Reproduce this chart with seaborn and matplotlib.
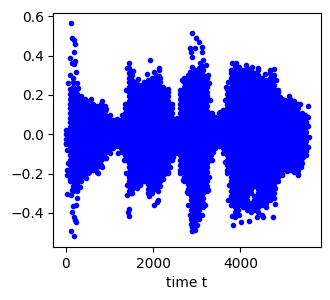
import matplotlib
matplotlib.use("Agg")
import matplotlib.pyplot as plt
import seaborn as sns

# edge points and outliers
edge_t = [130, 155, 190, 220, 198, 108, 205, 183, 150, 245, 100, 270, 290, 50, 590, 825, 925, 1016, 1170, 1290, 1380, 1405, 1458, 1545, 1664,
          1855, 1938, 2030, 2145, 2145, 2145, 2235, 2350, 2425, 2542, 2618, 2656, 2847, 2900, 2885, 2984, 3053, 3114, 3130, 2847, 2950, 2860,
          2900, 3150, 3070, 3212, 3267, 3290, 3305, 3343, 3380, 3533, 3603, 3648, 3670, 3720, 3778, 3800, 3892, 3968, 4128, 4258, 4410, 4563,
          4677, 4776, 4815, 4868, 4906, 5020, 5119, 5210, 5364, 5403, 5478, 5540, 5555, 5555,
          0, 40, 62, 25, 40, 100, 40, 124, 153, 268, 330, 162, 238, 268, 153, 192, 215, 231, 130, 185, 467, 520, 748, 826, 917, 1016, 1206, 1284,
          1336, 1382, 1412, 1412, 1497, 1627, 1700, 1451, 1435, 1458, 1908, 1970, 2120, 2121, 2084, 2023, 2235, 2350, 2389, 2458, 2656, 2618,
          2693, 2770, 2808, 2847, 2885, 2900, 2961, 3000, 3114, 3190, 3267, 3290, 3343, 3381, 3608, 3648, 3700, 3746, 3723, 3785, 3800, 3838,
          4014, 4204, 3952, 4373, 4524, 4753, 4792, 4716, 4792, 4945, 5059, 5325, 5380, 5440, 5555, 5478, 5560]
edge_y = [.563, .49, .48, .46, .42, .385, .373, .356, .36, .318, .3, .26, .233, .26, .18, .168, .13, .1, .075, .1, .224, .335, .36, .32, .28,
          .306, .375, .317, .337, .325, .296, .24, .23, .155, .082, .224, .276, .318, .343, .513, .487, .47, .445, .42, .44, .437, .42,
          .39, .377, .364, .352, .3, .259, .174, .108, .09, .115, .123, .174, .24, .267, .326, .364, .364, .343, .352, .343, .335, .306,
          .326, .331, .276, .225, .19, .174, .194, .169, .154, .108, .097, .144, .09, .04,
          -.046, -.08, -.146, -.18, -.207, -.24, -.303, -.308, -.283, -.29, -.266, -.364, -.36, -.325, -.396, -.423, -.435, -.448, -.493, -.518, -.224, -.198, -.198, -.164, -.122, -.097, -.093, -.088,
          -.13, -.198, -.257, -.308, -.3, -.274, -.257, -.381, -.396, -.413, -.316, -.3, -.29, -.334, -.345, -.36, -.23, -.198, -.164, -.114, -.114, -.198,
          -.232, -.291, -.359, -.41, -.494, -.47, -.486, -.46, -.41, -.359, -.283, -.215, -.13, -.088, -.093, -.139, -.198, -.257, -.333, -.359, -.414, -.463,
          -.447, -.44, -.384, -.42, -.423, -.42, -.354, -.308, -.274, -.207, -.185, -.207, -.164, -.118, -.063, -.105, -.012]

# solid interior, hand estimated column by column
times_a = [0, 90, 180, 270, 360, 450, 540, 630, 720, 810, 900, 990, 1080, 1170, 1260]
values_a = [
    [-.048, -.024, 0, .024],
    [-.228, -.204, -.18, -.156, -.132, -.108, -.084, -.06, -.036, -.012, .012, .036, .06, .084, .108, .132, .156, .18, .204, .228],
    [-.288, -.264, -.24, -.216, -.192, -.168, -.144, -.12, -.096, -.072, -.048, -.024, 0, .024, .048, .072, .096, .12, .144, .168, .192, .216, .24, .264, .288],
    [-.276, -.252, -.228, -.204, -.18, -.156, -.132, -.108, -.084, -.06, -.036, -.012, .012, .036, .06, .084, .108, .132, .156, .18, .204, .228],
    [-.24, -.216, -.192, -.168, -.144, -.12, -.096, -.072, -.048, -.024, 0, .024, .048, .072, .096, .12, .144, .168, .192],
    [-.204, -.18, -.156, -.132, -.108, -.084, -.06, -.036, -.012, .012, .036, .06, .084, .108, .132, .156, .18],
    [-.192, -.168, -.144, -.12, -.096, -.072, -.048, -.024, 0, .024, .048, .072, .096, .12, .144, .168],
    [-.18, -.156, -.132, -.108, -.084, -.06, -.036, -.012, .012, .036, .06, .084, .108, .132, .156],
    [-.192, -.168, -.144, -.12, -.096, -.072, -.048, -.024, 0, .024, .048, .072, .096, .12, .144],
    [-.156, -.132, -.108, -.084, -.06, -.036, -.012, .012, .036, .06, .084, .108, .132, .156],
    [-.12, -.096, -.072, -.048, -.024, 0, .024, .048, .072, .096, .12, .144],
    [-.084, -.06, -.036, -.012, .012, .036, .06, .084],
    [-.072, -.048, -.024, 0, .024, .048, .072],
    [-.06, -.036, -.012, .012, .036, .06],
    [-.072, -.048, -.024, 0, .024, .048, .072],
]

times_b = [1350, 1440, 1530, 1620, 1710, 1800, 1890, 1980, 2070, 2160, 2250, 2340, 2430, 2520]
values_b = [
    [-.132, -.108, -.084, -.06, -.036, -.012, .012, .036, .06, .084, .108, .132, .156],
    [-.288, -.264, -.24, -.216, -.192, -.168, -.144, -.12, -.096, -.072, -.048, -.024, 0, .024, .048, .072, .096, .12, .144, .168, .192, .216, .24, .264, .288, .312, .336],
    [-.3, -.276, -.252, -.228, -.204, -.18, -.156, -.132, -.108, -.084, -.06, -.036, -.012, .012, .036, .06, .084, .108, .132, .156, .18, .204, .228, .252, .276, .3],
    [-.264, -.24, -.216, -.192, -.168, -.144, -.12, -.096, -.072, -.048, -.024, 0, .024, .048, .072, .096, .12, .144, .168, .192, .216, .24, .264],
    [-.252, -.228, -.204, -.18, -.156, -.132, -.108, -.084, -.06, -.036, -.012, .012, .036, .06, .084, .108, .132, .156, .18, .204, .228, .252],
    [-.24, -.216, -.192, -.168, -.144, -.12, -.096, -.072, -.048, -.024, 0, .024, .048, .072, .096, .12, .144, .168, .192, .216, .24, .264],
    [-.3, -.276, -.252, -.228, -.204, -.18, -.156, -.132, -.108, -.084, -.06, -.036, -.012, .012, .036, .06, .084, .108, .132, .156, .18, .204, .228, .252, .276],
    [-.288, -.264, -.24, -.216, -.192, -.168, -.144, -.12, -.096, -.072, -.048, -.024, 0, .024, .048, .072, .096, .12, .144, .168, .192, .216, .24, .264, .288],
    [-.276, -.252, -.228, -.204, -.18, -.156, -.132, -.108, -.084, -.06, -.036, -.012, .012, .036, .06, .084, .108, .132, .156, .18, .204, .228, .252, .276, .3],
    [-.264, -.24, -.216, -.192, -.168, -.144, -.12, -.096, -.072, -.048, -.024, 0, .024, .048, .072, .096, .12, .144, .168, .192, .216, .24, .264, .288],
    [-.204, -.18, -.156, -.132, -.108, -.084, -.06, -.036, -.012, .012, .036, .06, .084, .108, .132, .156, .18, .204, .228],
    [-.192, -.168, -.144, -.12, -.096, -.072, -.048, -.024, 0, .024, .048, .072, .096, .12, .144, .168, .192, .216],
    [-.132, -.108, -.084, -.06, -.036, -.012, .012, .036, .06, .084, .108, .132],
    [-.096, -.072, -.048, -.024, 0, .024, .048, .072],
]

times_c = [2610, 2700, 2790, 2880, 2970, 3060, 3150, 3240, 3330, 3420, 3510, 3600]
values_c = [
    [-.18, -.156, -.132, -.108, -.084, -.06, -.036, -.012, .012, .036, .06, .084, .108, .132, .156, .18, .204],
    [-.24, -.216, -.192, -.168, -.144, -.12, -.096, -.072, -.048, -.024, 0, .024, .048, .072, .096, .12, .144, .168, .192, .216, .24, .264, .288],
    [-.3, -.276, -.252, -.228, -.204, -.18, -.156, -.132, -.108, -.084, -.06, -.036, -.012, .012, .036, .06, .084, .108, .132, .156, .18, .204, .228, .252, .276, .3],
    [-.456, -.432, -.408, -.384, -.36, -.336, -.312, -.288, -.264, -.24, -.216, -.192, -.168, -.144, -.12, -.096, -.072, -.048, -.024, 0, .024, .048, .072, .096, .12, .144, .168, .192, .216, .24, .264, .288, .312],
    [-.468, -.444, -.42, -.396, -.372, -.348, -.324, -.3, -.276, -.252, -.228, -.204, -.18, -.156, -.132, -.108, -.084, -.06, -.036, -.012, .012, .036, .06, .084, .108, .132, .156, .18, .204, .228, .252, .276, .3, .324],
    [-.432, -.408, -.384, -.36, -.336, -.312, -.288, -.264, -.24, -.216, -.192, -.168, -.144, -.12, -.096, -.072, -.048, -.024, 0, .024, .048, .072, .096, .12, .144, .168, .192, .216, .24, .264, .288, .312, .336],
    [-.372, -.348, -.324, -.3, -.276, -.252, -.228, -.204, -.18, -.156, -.132, -.108, -.084, -.06, -.036, -.012, .012, .036, .06, .084, .108, .132, .156, .18, .204, .228, .252, .276, .3, .324, .348],
    [-.288, -.264, -.24, -.216, -.192, -.168, -.144, -.12, -.096, -.072, -.048, -.024, 0, .024, .048, .072, .096, .12, .144, .168, .192, .216, .24, .264, .288],
    [-.132, -.108, -.084, -.06, -.036, -.012, .012, .036, .06, .084, .108],
    [-.072, -.048, -.024, 0, .024, .048, .072, .09],
    [-.06, -.036, -.012, .012, .036, .06, .084, .108],
    [-.072, -.048, -.024, 0, .024, .048, .072, .096, .12],
]

times_d = [3690, 3780, 3870, 3960, 4050, 4140, 4230, 4320, 4410, 4500, 4590]
values_d = [
    [-.18, -.156, -.132, -.108, -.084, -.06, -.036, -.012, .012, .036, .06, .084, .108, .132, .156, .18, .204, .228],
    [-.336, -.312, -.288, -.264, -.24, -.216, -.192, -.168, -.144, -.12, -.096, -.072, -.048, -.024, 0, .024, .048, .072, .096, .12, .144, .168, .192, .216, .24, .264, .288, .312],
    [-.42, -.396, -.372, -.348, -.324, -.3, -.276, -.252, -.228, -.204, -.18, -.156, -.132, -.108, -.084, -.06, -.036, -.012, .012, .036, .06, .084, .108, .132, .156, .18, .204, .228, .252, .276, .3, .324, .348],
    [-.408, -.36, -.336, -.312, -.288, -.264, -.24, -.216, -.192, -.168, -.144, -.12, -.096, -.072, -.048, -.024, 0, .024, .048, .072, .096, .12, .144, .168, .192, .216, .24, .264, .288, .312, .336],
    [-.372, -.348, -.324, -.3, -.276, -.252, -.228, -.204, -.18, -.156, -.132, -.108, -.084, -.06, -.036, -.012, .012, .036, .06, .084, .108, .132, .156, .18, .204, .228, .252, .276, .3, .324],
    [-.384, -.36, -.336, -.312, -.288, -.264, -.24, -.216, -.192, -.168, -.144, -.12, -.096, -.072, -.048, -.024, 0, .024, .048, .072, .096, .12, .144, .168, .192, .216, .24, .264, .288, .312, .336],
    [-.396, -.372, -.348, -.3, -.276, -.252, -.228, -.204, -.18, -.156, -.132, -.108, -.084, -.06, -.036, -.012, .012, .036, .06, .084, .108, .132, .156, .18, .204, .228, .252, .276, .3, .324],
    [-.384, -.36, -.336, -.312, -.264, -.24, -.216, -.192, -.168, -.144, -.12, -.096, -.072, -.048, -.024, 0, .024, .048, .072, .096, .12, .144, .168, .192, .216, .24, .264, .288, .312],
    [-.396, -.372, -.348, -.324, -.3, -.276, -.252, -.228, -.204, -.18, -.156, -.132, -.108, -.084, -.06, -.036, -.012, .012, .036, .06, .084, .108, .132, .156, .18, .204, .228, .252, .276, .3, .324],
    [-.408, -.36, -.336, -.312, -.288, -.264, -.24, -.216, -.192, -.168, -.144, -.12, -.096, -.072, -.048, -.024, 0, .024, .048, .072, .096, .12, .144, .168, .192, .216, .24, .264, .288],
    [-.372, -.348, -.324, -.3, -.276, -.252, -.228, -.204, -.18, -.156, -.132, -.108, -.084, -.06, -.036, -.012, .012, .036, .06, .084, .108, .132, .156, .18, .204, .228, .252, .276],
]

times_e = [4680, 4770, 4860, 4950, 5040, 5130, 5220, 5310, 5400, 5490]
values_e = [
    [-.336, -.312, -.288, -.264, -.24, -.216, -.192, -.168, -.144, -.12, -.096, -.072, -.048, -.024, 0, .024, .048, .072, .096, .12, .144, .168, .192, .216, .24, .264, .288, .312],
    [-.324, -.3, -.276, -.252, -.228, -.204, -.18, -.156, -.132, -.108, -.084, -.06, -.036, -.012, .012, .036, .06, .084, .108, .132, .156, .18, .204, .228, .252, .276, .3],
    [-.24, -.216, -.192, -.168, -.144, -.12, -.096, -.072, -.048, -.024, 0, .024, .048, .072, .096, .12, .144, .168, .192, .216],
    [-.204, -.18, -.156, -.132, -.108, -.084, -.06, -.036, -.012, .012, .036, .06, .084, .108, .132, .156, .18],
    [-.168, -.144, -.12, -.096, -.072, -.048, -.024, 0, .024, .048, .072, .096, .12, .144, .168],
    [-.18, -.156, -.132, -.108, -.084, -.06, -.036, -.012, .012, .036, .06, .084, .108, .132, .156, .18],
    [-.192, -.168, -.144, -.12, -.096, -.072, -.048, -.024, 0, .024, .048, .072, .096, .12, .144, .168],
    [-.204, -.18, -.156, -.132, -.108, -.084, -.06, -.036, -.012, .012, .036, .06, .084, .108, .132, .156],
    [-.144, -.12, -.096, -.072, -.048, -.024, 0, .024, .048, .072, .096],
    [-.108, -.084, -.06, -.036, -.012, .012, .036, .06, .084],
]

t = list(edge_t)
y = list(edge_y)
for times, values in [(times_a, values_a), (times_b, values_b), (times_c, values_c), (times_d, values_d), (times_e, values_e)]:
    for col_t, col_y in zip(times, values):
        t += [col_t] * len(col_y)
        y += col_y

fig = plt.figure(figsize=(3.3, 3), dpi=100)
ax = fig.add_axes([0.162, 0.176, 0.81, 0.782])
sns.scatterplot(x=t, y=y, marker=".", s=36, color="blue", edgecolor="blue", linewidth=1, ax=ax)
ax.set_xlim(-277, 5837)
ax.set_ylim(-0.574, 0.618)
ax.set_xticks([0, 2000, 4000])
ax.set_yticks([-0.4, -0.2, 0.0, 0.2, 0.4, 0.6])
ax.set_xlabel("time t")
fig.savefig("out.png", dpi=100)
